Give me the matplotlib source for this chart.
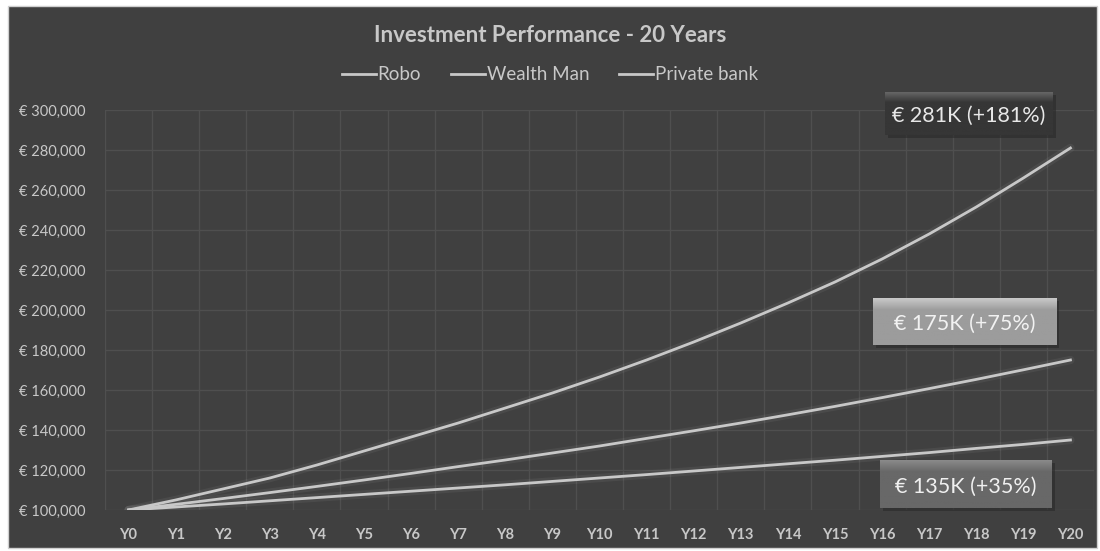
import matplotlib.pyplot as plt
import numpy as np
from matplotlib.colors import to_rgb
from matplotlib.patches import Rectangle
from matplotlib.ticker import FuncFormatter

years = [f"Y{i}" for i in range(21)]
robo = [100000, 105000, 110500, 116000, 122500, 129500, 136500, 143500, 151000, 158500,
        166500, 175000, 184000, 193500, 203500, 214000, 225500, 238000, 251500, 266000, 281000]
wealth_man = [100000, 102800, 105700, 108700, 111800, 115000, 118300, 121700, 125000, 128500,
              132000, 135800, 139600, 143500, 147600, 151800, 156200, 160700, 165300, 170100, 175000]
private_bank = [100000, 101500, 103000, 104600, 106200, 107800, 109400, 111000, 112600, 114300,
                116000, 117700, 119500, 121300, 123100, 124900, 126800, 128700, 130800, 132800, 135000]
series_names = ["Robo", "Wealth Man", "Private bank"]

plt.rcParams['font.family'] = ['Lato', 'DejaVu Sans']

BG = '#404040'
GRID = '#4f4f4f'
LINE = '#c8c8c8'
TEXT = '#c8c8c8'

fig = plt.figure(figsize=(11, 5.51), dpi=100, facecolor='white')
fig.patches.append(Rectangle((8 / 1100, 1 - 548 / 551), 1089 / 1100, 542 / 551,
                             transform=fig.transFigure, facecolor=BG, edgecolor='#d0d0d0',
                             linewidth=1, zorder=-1))

ax = fig.add_axes([105 / 1100, 1 - 510 / 551, 989 / 1100, 400 / 551])
ax.set_facecolor('none')
for s in ax.spines.values():
    s.set_visible(False)

x = np.arange(len(years))
for vals, name in zip([robo, wealth_man, private_bank], series_names):
    # soft glow under each line
    ax.plot(x, vals, color=LINE, lw=6, alpha=0.08, solid_capstyle='round', zorder=3)
    ax.plot(x, vals, color=LINE, lw=2, label=name, zorder=4)

ax.set_xlim(-0.5, 20.5)
ax.set_ylim(100000, 300000)
ax.set_xticks(x)
ax.set_xticklabels(years, fontsize=10.5, color=TEXT, fontweight='bold')
ax.set_yticks(np.arange(100000, 300001, 20000))
ax.yaxis.set_major_formatter(FuncFormatter(lambda v, p: f"\u20ac {v:,.0f}"))
ax.tick_params(axis='y', colors=TEXT, labelsize=10.5, length=0, pad=14)
ax.tick_params(axis='x', length=0, pad=13)

# category boundaries as vertical gridlines
for b in np.arange(-0.5, 21, 1):
    ax.axvline(b, color=GRID, lw=1, zorder=1)
for v in np.arange(100000, 300001, 20000):
    ax.axhline(v, color=GRID, lw=1, zorder=1)

fig.text(0.5, 1 - 35 / 551, "Investment Performance - 20 Years", ha='center', va='center',
         fontsize=16, fontweight='bold', color=TEXT)
fig.legend(loc='center', bbox_to_anchor=(0.5, 1 - 75 / 551), ncol=3, frameon=False,
           handlelength=1.8, handletextpad=0.1, columnspacing=1.6, fontsize=13.5,
           labelcolor=TEXT)


def badge(x0, y0, x1, y1, text, face, top, txt_color):
    # bevelled label box, pixel coords from the top-left corner
    l, r = x0 / 1100, x1 / 1100
    b, t = 1 - y1 / 551, 1 - y0 / 551
    face_rgb = np.array(to_rgb(face))
    top_rgb = np.array(to_rgb(top))
    img = np.empty((50, 2, 3))
    for i, g in enumerate(np.linspace(0, 1, 50)):
        w = max(0.0, 1 - g * 4)
        img[i] = top_rgb * w + face_rgb * (1 - w)
    fig.add_artist(Rectangle((l + 0.003, b - 0.006), r - l, t - b, transform=fig.transFigure,
                             facecolor='#2a2a2a', edgecolor='none', alpha=0.6, zorder=5))
    iax = fig.add_axes([l, b, r - l, t - b], zorder=6)
    iax.imshow(img, aspect='auto', extent=(0, 1, 0, 1), origin='upper')
    iax.set_axis_off()
    iax.text(0.5, 0.45, text, ha='center', va='center', fontsize=15.5, color=txt_color,
             transform=iax.transAxes)


badge(885, 92, 1053, 135, "\u20ac 281K (+181%)", '#363636', '#6a6a6a', '#e8e8e8')
badge(873, 298, 1056, 345, "\u20ac 175K (+75%)", '#9c9c9c', '#c8c8c8', '#f2f2f2')
badge(880, 460, 1052, 508, "\u20ac 135K (+35%)", '#686868', '#8c8c8c', '#f0f0f0')

fig.savefig('out.png', dpi=100, facecolor='white')
